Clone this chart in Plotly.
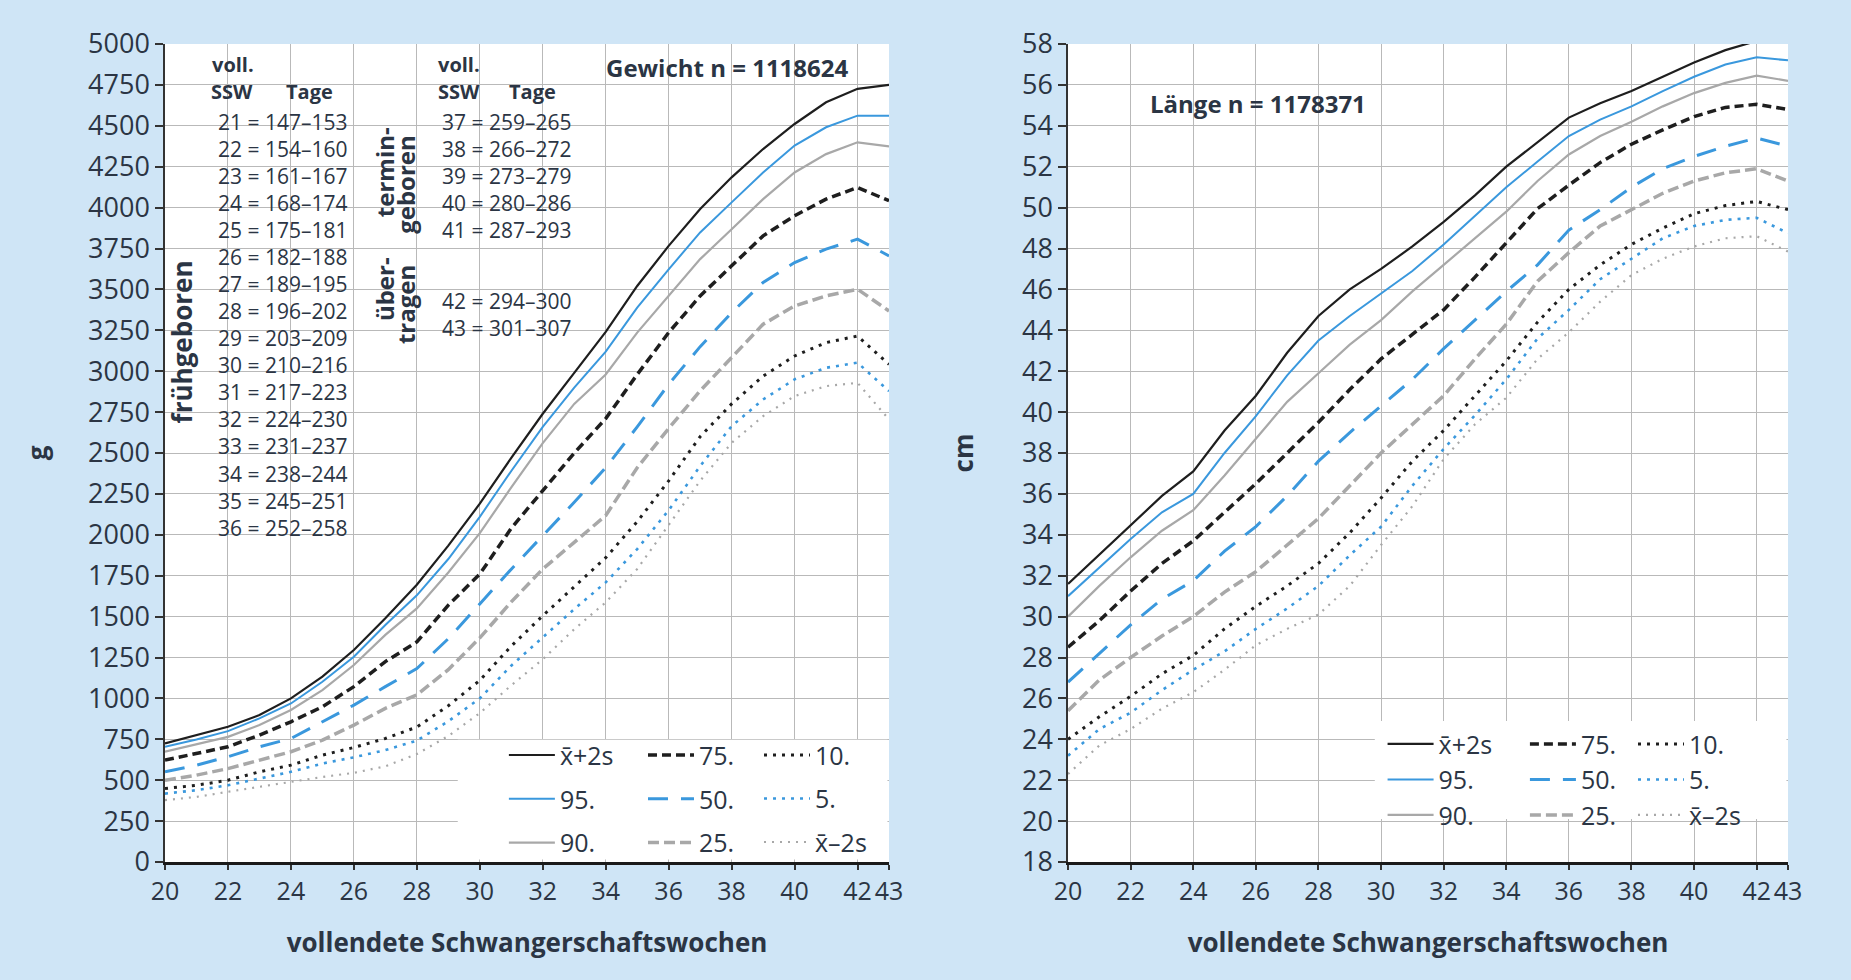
import plotly.graph_objects as go

# ---------------- data ----------------
WEEKS = list(range(20, 44))
X_TICKS = [20, 22, 24, 26, 28, 30, 32, 34, 36, 38, 40, 42, 43]
SERIES = ["x\u0304+2s", "95.", "90.", "75.", "50.", "25.", "10.", "5.", "x\u0304\u20132s"]

# Gewicht (g) per completed week 20..43
W_P2S = [725, 776, 827, 898, 1000, 1133, 1296, 1490, 1695, 1934, 2190, 2470, 2740, 2990, 3240, 3521, 3766, 3991, 4185, 4358, 4511, 4644, 4726, 4750]
W_P95 = [704, 749, 800, 878, 969, 1102, 1255, 1449, 1630, 1852, 2110, 2390, 2660, 2900, 3120, 3389, 3623, 3848, 4032, 4215, 4379, 4491, 4562, 4562]
W_P90 = [674, 718, 765, 837, 929, 1051, 1204, 1388, 1550, 1770, 2010, 2290, 2560, 2800, 2980, 3236, 3460, 3685, 3868, 4052, 4215, 4327, 4399, 4374]
W_P75 = [623, 663, 704, 776, 857, 949, 1072, 1225, 1345, 1570, 1760, 2040, 2270, 2500, 2710, 2980, 3236, 3460, 3644, 3827, 3950, 4052, 4123, 4042]
W_P50 = [551, 592, 643, 704, 755, 857, 959, 1072, 1182, 1365, 1580, 1790, 1995, 2199, 2410, 2660, 2920, 3150, 3358, 3542, 3664, 3746, 3807, 3705]
W_P25 = [500, 531, 571, 623, 674, 745, 837, 939, 1022, 1176, 1370, 1590, 1791, 1954, 2118, 2410, 2650, 2880, 3080, 3287, 3399, 3460, 3501, 3368]
W_P10 = [449, 469, 500, 551, 592, 653, 700, 755, 825, 955, 1110, 1320, 1505, 1680, 1860, 2080, 2330, 2600, 2800, 2970, 3093, 3175, 3215, 3042]
W_P5 = [418, 439, 469, 510, 551, 602, 640, 684, 742, 860, 1000, 1200, 1372, 1546, 1709, 1913, 2150, 2420, 2664, 2827, 2950, 3021, 3052, 2878]
W_M2S = [378, 398, 429, 460, 490, 520, 545, 585, 660, 770, 910, 1080, 1239, 1423, 1587, 1791, 2060, 2330, 2562, 2725, 2848, 2909, 2929, 2705]

# Länge (cm) per completed week 20..43
L_P2S = [31.6, 33.05, 34.5, 35.9, 37.1, 39.1, 40.8, 42.9, 44.7, 46.0, 47.0, 48.1, 49.3, 50.6, 52.0, 53.2, 54.4, 55.1, 55.7, 56.4, 57.1, 57.7, 58.15, 58.05]
L_P95 = [31.0, 32.4, 33.8, 35.1, 36.0, 38.0, 39.8, 41.8, 43.5, 44.7, 45.8, 46.9, 48.2, 49.6, 51.0, 52.25, 53.5, 54.3, 54.95, 55.7, 56.4, 57.0, 57.35, 57.2]
L_P90 = [30.0, 31.5, 32.9, 34.2, 35.2, 36.9, 38.7, 40.5, 41.9, 43.3, 44.5, 45.9, 47.2, 48.5, 49.8, 51.3, 52.6, 53.5, 54.2, 54.95, 55.6, 56.1, 56.45, 56.2]
L_P75 = [28.5, 29.8, 31.25, 32.6, 33.7, 35.1, 36.5, 38.0, 39.5, 41.1, 42.6, 43.8, 45.0, 46.6, 48.3, 49.95, 51.1, 52.2, 53.1, 53.8, 54.45, 54.9, 55.05, 54.8]
L_P50 = [26.8, 28.2, 29.6, 30.85, 31.75, 33.2, 34.4, 35.9, 37.6, 39.0, 40.3, 41.6, 43.1, 44.5, 45.9, 47.2, 48.9, 49.9, 51.0, 51.9, 52.5, 53.0, 53.4, 53.0]
L_P25 = [25.4, 26.9, 28.0, 29.05, 30.0, 31.2, 32.2, 33.5, 34.8, 36.4, 38.0, 39.4, 40.8, 42.6, 44.3, 46.4, 47.8, 49.1, 49.9, 50.7, 51.3, 51.7, 51.9, 51.3]
L_P10 = [24.0, 25.1, 26.1, 27.2, 28.1, 29.4, 30.5, 31.5, 32.6, 34.1, 35.8, 37.6, 39.1, 40.8, 42.5, 44.4, 46.0, 47.2, 48.2, 49.0, 49.7, 50.1, 50.3, 49.9]
L_P5 = [23.2, 24.5, 25.3, 26.4, 27.4, 28.3, 29.4, 30.4, 31.5, 33.0, 34.4, 36.4, 38.2, 39.85, 41.6, 43.6, 45.0, 46.5, 47.5, 48.5, 49.1, 49.4, 49.5, 48.75]
L_M2S = [22.3, 23.7, 24.5, 25.5, 26.3, 27.4, 28.6, 29.4, 30.1, 31.5, 33.5, 35.4, 37.7, 39.4, 40.7, 42.6, 43.9, 45.4, 46.7, 47.5, 48.1, 48.5, 48.6, 47.85]

WEIGHT = [W_P2S, W_P95, W_P90, W_P75, W_P50, W_P25, W_P10, W_P5, W_M2S]
LENGTH = [L_P2S, L_P95, L_P90, L_P75, L_P50, L_P25, L_P10, L_P5, L_M2S]

TABLE_PRE = ["21 = 147\u2013153", "22 = 154\u2013160", "23 = 161\u2013167", "24 = 168\u2013174",
             "25 = 175\u2013181", "26 = 182\u2013188", "27 = 189\u2013195", "28 = 196\u2013202",
             "29 = 203\u2013209", "30 = 210\u2013216", "31 = 217\u2013223", "32 = 224\u2013230",
             "33 = 231\u2013237", "34 = 238\u2013244", "35 = 245\u2013251", "36 = 252\u2013258"]
TABLE_TERM = ["37 = 259\u2013265", "38 = 266\u2013272", "39 = 273\u2013279", "40 = 280\u2013286", "41 = 287\u2013293"]
TABLE_POST = ["42 = 294\u2013300", "43 = 301\u2013307"]

# ---------------- styles ----------------
TEXT = "#2b3544"
BLACK = "#1e1e1e"
BLUE = "#3a98dd"
GRAY = "#a8a8a8"
STYLES = [
    dict(color=BLACK, width=2.2, dash="solid"),
    dict(color=BLUE, width=2.0, dash="solid"),
    dict(color=GRAY, width=2.2, dash="solid"),
    dict(color=BLACK, width=3.5, dash="9px,5px"),
    dict(color=BLUE, width=3.0, dash="20px,13px"),
    dict(color=GRAY, width=3.5, dash="11px,5px"),
    dict(color=BLACK, width=3.0, dash="3px,6px"),
    dict(color=BLUE, width=2.6, dash="3px,6px"),
    dict(color=GRAY, width=2.2, dash="2px,6px"),
]
FONT = "Open Sans, Noto Sans, DejaVu Sans, sans-serif"

fig = go.Figure()
LEFT_LEGENDS = ["legend", "legend2", "legend3"]
RIGHT_LEGENDS = ["legend4", "legend5", "legend6"]
for i, (name, ys) in enumerate(zip(SERIES, WEIGHT)):
    fig.add_trace(go.Scatter(x=WEEKS, y=ys, mode="lines", name=name, line=STYLES[i],
                             xaxis="x", yaxis="y", legend=LEFT_LEGENDS[i // 3],
                             legendgroup="L%d" % i))
for i, (name, ys) in enumerate(zip(SERIES, LENGTH)):
    fig.add_trace(go.Scatter(x=WEEKS, y=ys, mode="lines", name=name, line=STYLES[i],
                             xaxis="x2", yaxis="y2", legend=RIGHT_LEGENDS[i // 3],
                             legendgroup="R%d" % i))

axis_common = dict(
    showgrid=True, gridcolor="#b9b9b9", gridwidth=1,
    ticks="outside", ticklen=8, tickwidth=1.5, tickcolor="#333333",
    showline=True, linecolor="#333333", linewidth=1.5,
    tickfont=dict(size=27, color=TEXT, family=FONT), zeroline=False,
)
xcommon = dict(axis_common, range=[20, 43], tickmode="array", tickvals=X_TICKS,
               ticktext=[str(v) for v in X_TICKS], tickangle=0, ticklen=5,
               tickfont=dict(size=25, color=TEXT, family=FONT),
               linewidth=3, linecolor="#1a1a1a",
               title=dict(text="<b>vollendete Schwangerschaftswochen</b>", standoff=28,
                          font=dict(size=26, color=TEXT, family=FONT)))

def leg(x, y, gap):
    return dict(x=x, y=y, xanchor="left", yanchor="top", orientation="v",
                bgcolor="rgba(0,0,0,0)", borderwidth=0, itemwidth=46,
                font=dict(size=25, color=TEXT, family=FONT),
                tracegroupgap=gap, traceorder="grouped")

fig.update_layout(
    width=1851, height=980,
    margin=dict(l=165, r=63, t=44, b=118, autoexpand=False),
    paper_bgcolor="#cfe5f6", plot_bgcolor="#ffffff",
    font=dict(family=FONT, color=TEXT),
    xaxis=dict(xcommon, domain=[0, 0.4461], anchor="y"),
    xaxis2=dict(xcommon, domain=[0.5564, 1], anchor="y2"),
    yaxis=dict(axis_common, domain=[0, 1], anchor="x", range=[0, 5000], dtick=250, tick0=0,
               title=dict(text="<b>g</b>", standoff=33, font=dict(size=26, color=TEXT, family=FONT))),
    yaxis2=dict(axis_common, domain=[0, 1], anchor="x2", range=[18, 58], dtick=2, tick0=18,
                title=dict(text="<b>cm</b>", standoff=41, font=dict(size=26, color=TEXT, family=FONT))),
    legend=leg(0.2088, 0.1586, 8.3),
    legend2=leg(0.2945, 0.1586, 8.3),
    legend3=leg(0.3660, 0.1586, 8.0),
    legend4=leg(0.7502, 0.1721, 0),
    legend5=leg(0.8379, 0.1721, 0),
    legend6=leg(0.9045, 0.1721, 0),
    showlegend=True,
)

# white areas behind the legends
fig.add_shape(type="rect", xref="x", yref="y", x0=29.3, x1=42.95, y0=15, y1=748,
              fillcolor="white", line=dict(width=0), layer="between")
fig.add_shape(type="rect", xref="x2", yref="y2", x0=29.8, x1=42.95, y0=20.1, y1=24.9,
              fillcolor="white", line=dict(width=0), layer="between")

ann = []
def text(x, y, s, xref="x", yref="y", size=21, bold=False, xanchor="left", angle=0):
    ann.append(dict(x=x, y=y, xref=xref, yref=yref, text=("<b>%s</b>" % s) if bold else s,
                    showarrow=False, xanchor=xanchor, yanchor="middle", textangle=angle,
                    font=dict(size=size, color=TEXT, family=FONT), align="center"))

# table: left column
text(21.44, 4872, "voll.", bold=True, size=20)
text(21.39, 4707, "SSW", bold=True, size=20)
text(23.79, 4707, "Tage", bold=True, size=20)
ROW0 = 4526
ROWSTEP = 165.5
for i, s in enumerate(TABLE_PRE):
    text(25.85, ROW0 - ROWSTEP * i, s, xanchor="right")
# table: right column
text(28.6, 4872, "voll.", bold=True, size=20)
text(28.6, 4707, "SSW", bold=True, size=20)
text(30.88, 4707, "Tage", bold=True, size=20)
for i, s in enumerate(TABLE_TERM):
    text(32.95, ROW0 - ROWSTEP * i, s, xanchor="right")
for yv, s in zip([3429, 3264], TABLE_POST):
    text(32.95, yv, s, xanchor="right")

text(20.55, 3178, "frühgeboren", bold=True, xanchor="center", angle=-90, size=26)
text(26.98, 4215, "termin-", bold=True, xanchor="center", angle=-90, size=24)
text(27.66, 4140, "geboren", bold=True, xanchor="center", angle=-90, size=24)
text(26.98, 3500, "über-", bold=True, xanchor="center", angle=-90, size=24)
text(27.66, 3405, "tragen", bold=True, xanchor="center", angle=-90, size=24)

text(41.75, 4859, "Gewicht n = 1118624", bold=True, xanchor="right", size=24)
text(22.55, 55.07, "Länge n = 1178371", xref="x2", yref="y2", bold=True, xanchor="left", size=24)

fig.update_layout(annotations=ann)

fig.write_html("out.html", config={"displayModeBar": False},
               post_script="document.body.style.margin='0';")
